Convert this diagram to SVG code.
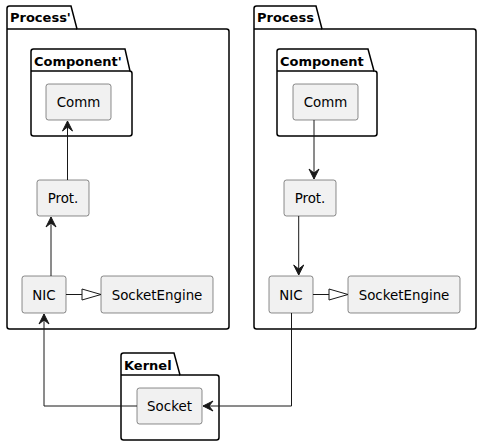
<svg xmlns="http://www.w3.org/2000/svg" width="482" height="446" viewBox="0 0 482 446">
<style>
.pkg{fill:#FFFFFF;stroke:#000000;stroke-width:1.5}
.pl{font-family:"DejaVu Sans",sans-serif;font-weight:bold;font-size:13px;fill:#000000}
.nd{fill:#F1F1F1;stroke:#181818;stroke-width:0.5}
.nt{font-family:"DejaVu Sans",sans-serif;font-size:13.4px;fill:#000000;text-anchor:middle}
.ln{fill:none;stroke:#181818;stroke-width:1}
</style>
<defs>
<marker id="arr" markerUnits="userSpaceOnUse" viewBox="-11 -6 12 12" refX="0" refY="0" markerWidth="12" markerHeight="12" orient="auto">
<path d="M0,0 L-10,-5 L-6,0 L-10,5 Z" fill="#181818" stroke="#181818" stroke-width="1"/>
</marker>
<marker id="ext" markerUnits="userSpaceOnUse" viewBox="-21 -7 22 14" refX="0" refY="0" markerWidth="22" markerHeight="14" orient="auto">
<path d="M0,0 L-19,-5.5 L-19,5.5 Z" fill="#FFFFFF" stroke="#181818" stroke-width="1"/>
</marker>
</defs>
<g id="pkg-process-prime">
<path class="pkg" d="M9.5,6 L71,6 L77,29 L226.5,29 Q229,29 229,31.5 L229,326.5 Q229,329 226.5,329 L9.5,329 Q7,329 7,326.5 L7,8.5 Q7,6 9.5,6 Z"/>
<line class="pkg" x1="7" y1="29" x2="77" y2="29"/>
<text class="pl" x="10" y="22">Process'</text>
</g>
<g id="pkg-process">
<path class="pkg" d="M256.5,6 L316,6 L322,29 L473.5,29 Q476,29 476,31.5 L476,326.5 Q476,329 473.5,329 L256.5,329 Q254,329 254,326.5 L254,8.5 Q254,6 256.5,6 Z"/>
<line class="pkg" x1="254" y1="29" x2="322" y2="29"/>
<text class="pl" x="257" y="22">Process</text>
</g>
<g id="pkg-component-prime">
<path class="pkg" d="M33.5,49 L125,49 L130,71 L129.5,71 Q132,71 132,73.5 L132,133.5 Q132,136 129.5,136 L33.5,136 Q31,136 31,133.5 L31,51.5 Q31,49 33.5,49 Z"/>
<line class="pkg" x1="31" y1="71" x2="130" y2="71"/>
<text class="pl" x="34" y="66">Component'</text>
</g>
<g id="pkg-component">
<path class="pkg" d="M279.5,49 L368,49 L374,71 L374.5,71 Q377,71 377,73.5 L377,133.5 Q377,136 374.5,136 L279.5,136 Q277,136 277,133.5 L277,51.5 Q277,49 279.5,49 Z"/>
<line class="pkg" x1="277" y1="71" x2="374" y2="71"/>
<text class="pl" x="280" y="66">Component</text>
</g>
<g id="pkg-kernel">
<path class="pkg" d="M123.5,353 L174,353 L180,375 L216.5,375 Q219,375 219,377.5 L219,437.5 Q219,440 216.5,440 L123.5,440 Q121,440 121,437.5 L121,355.5 Q121,353 123.5,353 Z"/>
<line class="pkg" x1="121" y1="375" x2="180" y2="375"/>
<text class="pl" x="124" y="370">Kernel</text>
</g>
<g id="comm-prime"><rect class="nd" x="46" y="84" width="65" height="36" rx="2.5"/><text class="nt" x="78.5" y="107">Comm</text></g>
<g id="prot-prime"><rect class="nd" x="37" y="180" width="52" height="36" rx="2.5"/><text class="nt" x="63" y="203">Prot.</text></g>
<g id="nic-prime"><rect class="nd" x="22" y="276" width="44" height="37" rx="2.5"/><text class="nt" x="44" y="299.5">NIC</text></g>
<g id="socketengine-prime"><rect class="nd" x="101" y="276" width="112" height="37" rx="2.5"/><text class="nt" x="157" y="299.5">SocketEngine</text></g>
<g id="comm"><rect class="nd" x="293" y="84" width="65" height="36" rx="2.5"/><text class="nt" x="325.5" y="107">Comm</text></g>
<g id="prot"><rect class="nd" x="284" y="180" width="52" height="36" rx="2.5"/><text class="nt" x="310" y="203">Prot.</text></g>
<g id="nic"><rect class="nd" x="269" y="276" width="44" height="37" rx="2.5"/><text class="nt" x="291" y="299.5">NIC</text></g>
<g id="socketengine"><rect class="nd" x="348" y="276" width="112" height="37" rx="2.5"/><text class="nt" x="404" y="299.5">SocketEngine</text></g>
<g id="socket"><rect class="nd" x="137" y="388" width="65" height="36" rx="2.5"/><text class="nt" x="169.5" y="411">Socket</text></g>
<g id="connectors">
<path class="ln" d="M67.5,180 L67.5,121" marker-end="url(#arr)"/>
<path class="ln" d="M51,276 L51,217" marker-end="url(#arr)"/>
<path class="ln" d="M66,294.5 L101,294.5" marker-end="url(#ext)"/>
<path class="ln" d="M137,406 L44,406 L44,314" marker-end="url(#arr)"/>
<path class="ln" d="M314,120 L314,179" marker-end="url(#arr)"/>
<path class="ln" d="M298.7,216 L298.7,275" marker-end="url(#arr)"/>
<path class="ln" d="M313,294.5 L348,294.5" marker-end="url(#ext)"/>
<path class="ln" d="M291.5,313 L291.5,406 L203,406" marker-end="url(#arr)"/>
</g>
</svg>
